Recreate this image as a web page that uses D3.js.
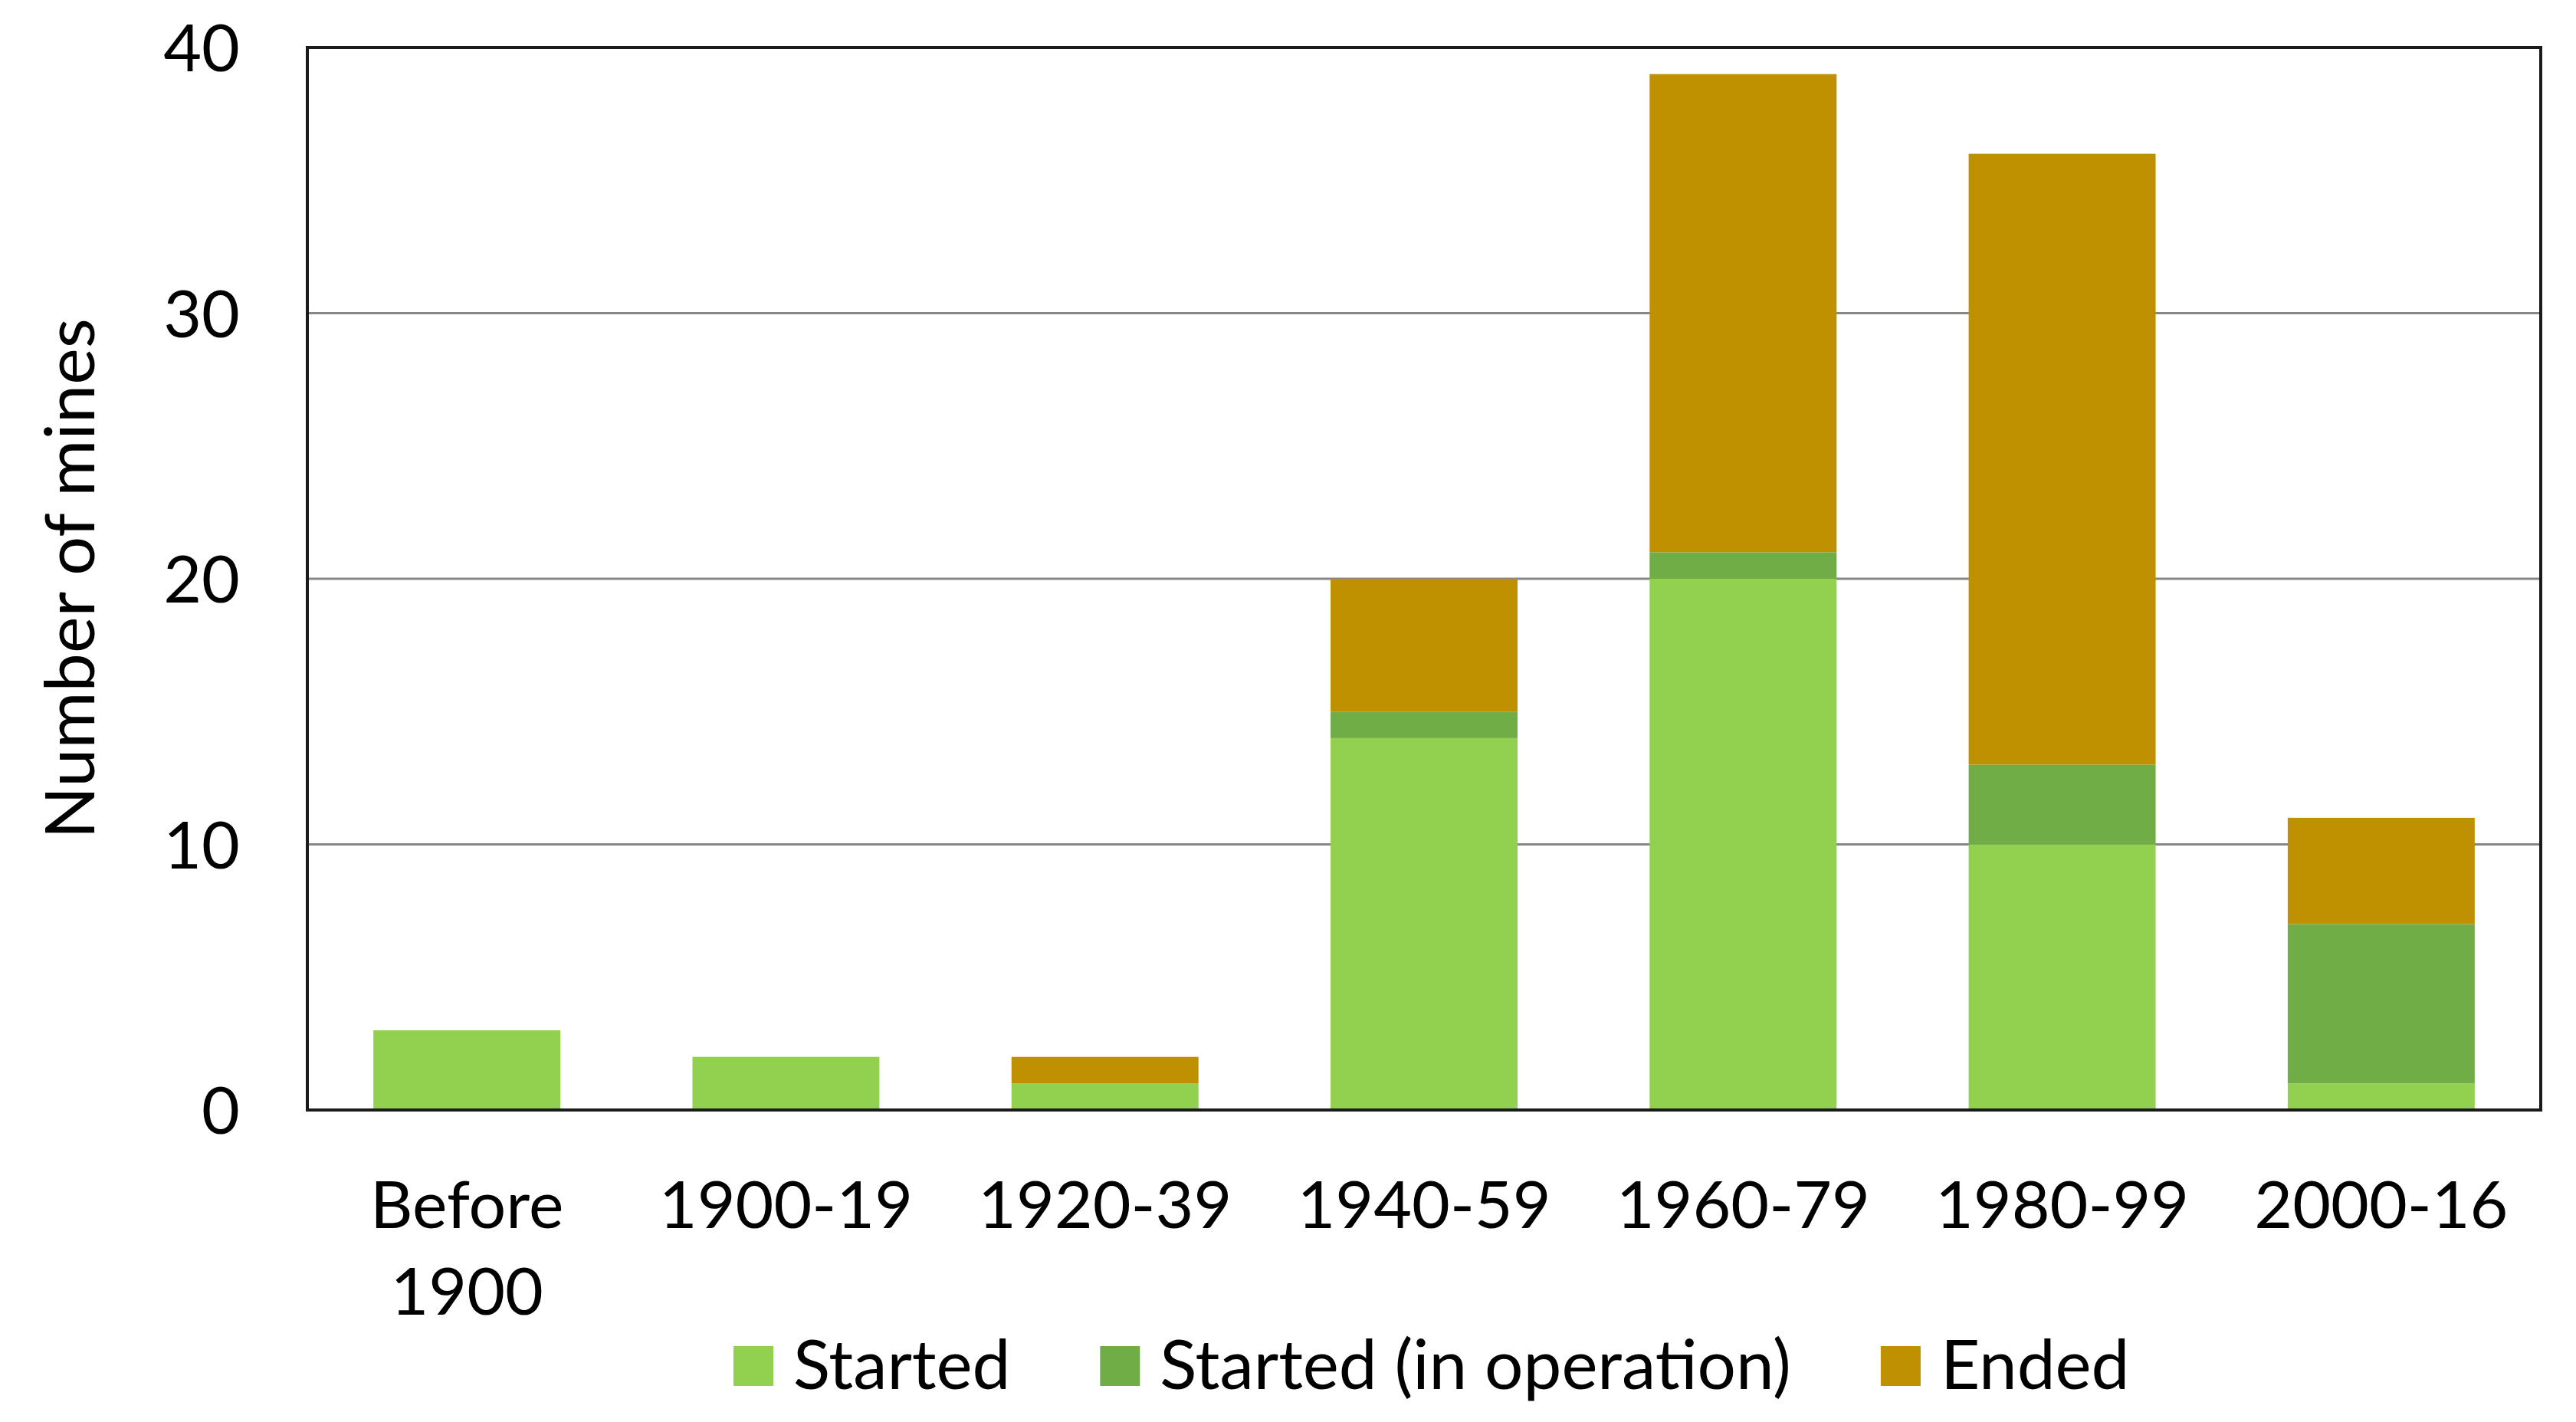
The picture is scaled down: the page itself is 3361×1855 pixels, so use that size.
<!DOCTYPE html>
<html>
<head>
<meta charset="utf-8">
<script src="https://d3js.org/d3.v7.min.js"></script>
<style>
    body { margin: 0; background: #ffffff; }
    text { font-family: "Lato", "Noto Sans", sans-serif; fill: #000000; }
</style>
</head>
<body>
<div id="chart"></div>
<script>
// data
var categories = ["Before 1900", "1900-19", "1920-39", "1940-59", "1960-79", "1980-99", "2000-16"];
var started = [3, 2, 1, 14, 20, 10, 1];
var inOperation = [0, 0, 0, 1, 1, 3, 6];
var ended = [0, 0, 1, 5, 18, 23, 4];
var seriesNames = ["Started", "Started (in operation)", "Ended"];
var yTicks = [0, 10, 20, 30, 40];

var colors = ["#92d050", "#70ad47", "#bf9000"];
var fontSize = 86;

var W = 3361, H = 1855;
var margin = { top: 62, right: 46, bottom: 407, left: 401 },
    width = W - margin.left - margin.right,
    height = H - margin.top - margin.bottom;

var svg = d3.select("#chart")
    .append("svg")
    .attr("width", W)
    .attr("height", H)
    .append("g")
    .attr("transform", "translate(" + margin.left + "," + margin.top + ")");

// table for d3.stack
var table = categories.map(function (c, i) {
    return { cat: c, s0: started[i], s1: inOperation[i], s2: ended[i] };
});
var keys = ["s0", "s1", "s2"];
var stacked = d3.stack().keys(keys)(table);

// excel style gap width ~70%
var x = d3.scaleBand()
    .domain(categories)
    .range([0, width])
    .paddingInner(0.414)
    .paddingOuter(0.207);

var y = d3.scaleLinear()
    .domain([0, 40])
    .range([height, 0]);

// gridlines
svg.append("g")
    .selectAll("line")
    .data(yTicks.filter(function (t) { return t > 0 && t < 40; }))
    .enter()
    .append("line")
    .attr("x1", 0)
    .attr("x2", width)
    .attr("y1", function (d) { return y(d); })
    .attr("y2", function (d) { return y(d); })
    .attr("stroke", "#878787")
    .attr("stroke-width", 3);

// bars
svg.append("g")
    .selectAll("g")
    .data(stacked)
    .enter()
    .append("g")
    .attr("fill", function (d, i) { return colors[i]; })
    .selectAll("rect")
    .data(function (d) { return d; })
    .enter()
    .append("rect")
    .attr("x", function (d) { return x(d.data.cat); })
    .attr("y", function (d) { return y(d[1]); })
    .attr("width", x.bandwidth())
    .attr("height", function (d) { return y(d[0]) - y(d[1]); });

// plot frame
svg.append("rect")
    .attr("x", 0)
    .attr("y", 0)
    .attr("width", width)
    .attr("height", height)
    .attr("fill", "none")
    .attr("stroke", "#1a1a1a")
    .attr("stroke-width", 4);

// y axis
var yAxis = svg.append("g")
    .call(d3.axisLeft(y).tickValues(yTicks).tickSize(0).tickPadding(88));
yAxis.select(".domain").remove();
yAxis.selectAll("text")
    .attr("font-family", null)
    .style("font-size", fontSize + "px")
    .attr("dy", "0.36em");

// x axis, labels broken on spaces
var xAxis = svg.append("g")
    .attr("transform", "translate(0," + height + ")")
    .call(d3.axisBottom(x).tickSize(0).tickPadding(0));
xAxis.select(".domain").remove();
xAxis.selectAll("text")
    .attr("font-family", null)
    .style("font-size", fontSize + "px")
    .attr("y", 0)
    .attr("dy", null)
    .each(function (d) {
        var t = d3.select(this);
        var words = d.split(" ");
        t.text(null);
        words.forEach(function (w, i) {
            t.append("tspan")
                .attr("x", 0)
                .attr("y", 154 + i * 113)
                .text(w);
        });
    });

// y axis title
svg.append("text")
    .attr("transform", "translate(" + (123 - margin.left) + "," + (height / 2) + ") rotate(-90)")
    .attr("text-anchor", "middle")
    .style("font-size", "90px")
    .text("Number of mines");

// legend
var legend = svg.append("g")
    .attr("transform", "translate(0," + (1812 - margin.top) + ")");
var sq = 52, gapText = 26, gapItem = 117;
var items = legend.selectAll("g")
    .data(seriesNames)
    .enter()
    .append("g");
items.append("rect")
    .attr("x", 0)
    .attr("y", -56)
    .attr("width", sq)
    .attr("height", sq)
    .attr("fill", function (d, i) { return colors[i]; });
items.append("text")
    .attr("x", sq + gapText)
    .attr("y", 0)
    .style("font-size", "89px")
    .text(function (d) { return d; });

var pos = 957 - margin.left;
items.attr("transform", function () {
    var w = d3.select(this).select("text").node().getComputedTextLength();
    var tr = "translate(" + pos + ",0)";
    pos += sq + gapText + w + gapItem;
    return tr;
});
</script>
</body>
</html>
